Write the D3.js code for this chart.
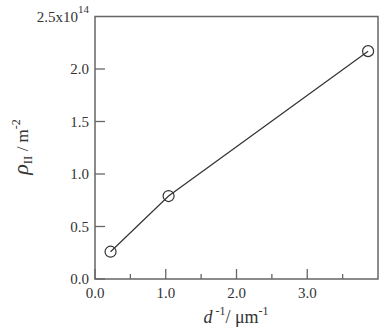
<!DOCTYPE html>
<html><head><meta charset="utf-8">
<script src="https://cdn.jsdelivr.net/npm/d3@7"></script>
<style>body{margin:0;background:#fff}svg{display:block}text{font-family:'Liberation Serif',serif;fill:#333}</style>
</head><body>
<script>
const xValues = [0.22, 1.04, 3.86];
const yValues = [0.26, 0.79, 2.17];
const xMajorTicks = [0, 1, 2, 3];
const xMinorTicks = [0.5, 1.5, 2.5, 3.5];
const yTicks = [0, 0.5, 1.0, 1.5, 2.0];
const topLabel = "2.5x10";
const topExp = "14";

const W = 380, H = 328;
const m = {left: 95, right: 2, top: 16.5, bottom: 49};
const svg = d3.select("body").append("svg").attr("width", W).attr("height", H);
const x = d3.scaleLinear().domain([0, 4.0]).range([m.left, W - m.right]);
const y = d3.scaleLinear().domain([0, 2.5]).range([H - m.bottom, m.top]);
const frameColor = "#666";

svg.append("rect").attr("x", x(0)).attr("y", y(2.5)).attr("width", x(4) - x(0)).attr("height", y(0) - y(2.5))
  .attr("fill", "none").attr("stroke", frameColor).attr("stroke-width", 1.5);

svg.selectAll(".yt").data(yTicks).enter().append("line")
  .attr("x1", x(0)).attr("x2", x(0) + 10).attr("y1", d => y(d)).attr("y2", d => y(d))
  .attr("stroke", frameColor).attr("stroke-width", 1.3);
svg.selectAll(".yl").data(yTicks).enter().append("text")
  .attr("x", x(0) - 6).attr("y", d => y(d) + 5).attr("text-anchor", "end").attr("font-size", 15)
  .text(d => d.toFixed(1));
const tl = svg.append("text").attr("x", x(0) - 6).attr("y", y(2.5) + 5).attr("text-anchor", "end").attr("font-size", 15);
tl.append("tspan").text(topLabel);
tl.append("tspan").attr("dy", -9).attr("font-size", 11).text(topExp);

svg.selectAll(".xt").data(xMajorTicks).enter().append("line")
  .attr("x1", d => x(d)).attr("x2", d => x(d)).attr("y1", y(0)).attr("y2", y(0) - 10)
  .attr("stroke", frameColor).attr("stroke-width", 1.3);
svg.selectAll(".xm").data(xMinorTicks).enter().append("line")
  .attr("x1", d => x(d)).attr("x2", d => x(d)).attr("y1", y(0)).attr("y2", y(0) - 5)
  .attr("stroke", frameColor).attr("stroke-width", 1.3);
svg.selectAll(".xl").data(xMajorTicks).enter().append("text")
  .attr("x", d => x(d)).attr("y", y(0) + 19).attr("text-anchor", "middle").attr("font-size", 15)
  .text(d => d.toFixed(1));

const pts = xValues.map((v, i) => [v, yValues[i]]);
svg.append("path").datum(pts)
  .attr("d", d3.line().x(d => x(d[0])).y(d => y(d[1])))
  .attr("fill", "none").attr("stroke", "#333").attr("stroke-width", 1.2);
svg.selectAll(".pt").data(pts).enter().append("circle")
  .attr("cx", d => x(d[0])).attr("cy", d => y(d[1])).attr("r", 5.5)
  .attr("fill", "none").attr("stroke", "#333").attr("stroke-width", 1.2);

const xl = svg.append("text").attr("x", 236).attr("y", 323).attr("text-anchor", "middle").attr("font-size", 18);
xl.append("tspan").attr("font-style", "italic").text("d");
xl.append("tspan").attr("dy", -8).attr("font-size", 12).text(" -1");
xl.append("tspan").attr("dy", 8).text("/ μm");
xl.append("tspan").attr("dy", -8).attr("font-size", 12).text("-1");

const yl = svg.append("text").attr("transform", "translate(28,147) rotate(-90)").attr("text-anchor", "middle").attr("font-size", 17);
yl.append("tspan").attr("font-style", "italic").attr("font-size", 22).text("ρ");
yl.append("tspan").attr("dy", 4).attr("font-size", 13).text("II");
yl.append("tspan").attr("dy", -4).attr("font-size", 17).text(" / m");
yl.append("tspan").attr("dy", -8).attr("font-size", 12).text("-2");
</script>
</body></html>
